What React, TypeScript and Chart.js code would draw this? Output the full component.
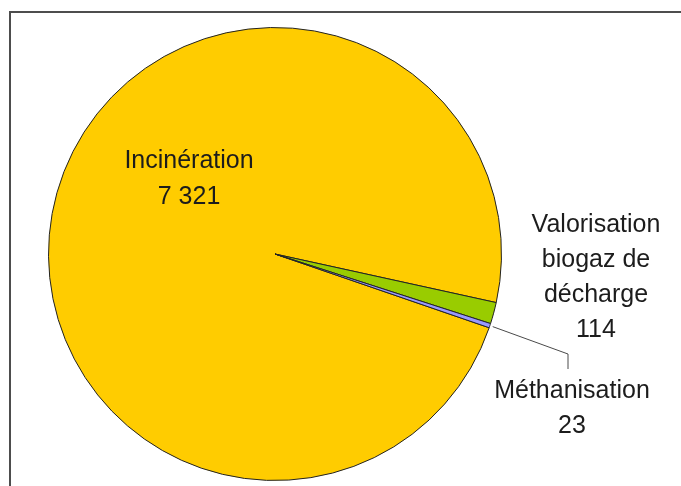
import React, { useEffect, useRef } from "react";
import { Chart, registerables } from "chart.js";

Chart.register(...registerables);

// Tonnages by recovery channel
const categories = ["Incinération", "Valorisation biogaz de décharge", "Méthanisation"];
const values = [7321, 114, 23];
const sliceColors = ["#FFCC00", "#99CC00", "#9999FF"];

// Label lines drawn beside each slice
const labelLines = [["Incinération"], ["Valorisation", "biogaz de", "décharge"], ["Méthanisation"]];

const fmt = (v: number) => String(v).replace(/\B(?=(\d{3})+(?!\d))/g, " ");

const FONT = '25px "Liberation Sans", Arial, sans-serif';
const LINE_H = 35;

const labelPlugin = {
  id: "sliceLabels",
  afterDatasetsDraw(chart: any) {
    const ctx = chart.ctx;
    const meta = chart.getDatasetMeta(0);
    const cx = meta.data[0].x;
    const cy = meta.data[0].y;

    // anchor: centre x and first baseline, relative to the pie centre
    const anchors = [
      { dx: -86, dy: -86 },
      { dx: 321, dy: -22 },
      { dx: 297, dy: 144 },
    ];

    ctx.save();
    ctx.font = FONT;
    ctx.fillStyle = "#1c1c1c";
    ctx.textAlign = "center";
    ctx.textBaseline = "alphabetic";
    labelLines.forEach((lines, i) => {
      const all = [...lines, fmt(values[i])];
      const a = anchors[i];
      all.forEach((t, j) => {
        ctx.fillText(t, cx + a.dx, cy + a.dy + j * LINE_H + (i === 0 && j > 0 ? 1 : 0));
      });
    });

    // leader line for the thin Méthanisation slice
    const arc = meta.data[2];
    const mid = (arc.startAngle + arc.endAngle) / 2;
    const r = arc.outerRadius + 3;
    const sx = arc.x + Math.cos(mid) * r;
    const sy = arc.y + Math.sin(mid) * r;
    const ex = cx + anchors[2].dx - 4;
    ctx.strokeStyle = "#4a4a4a";
    ctx.lineWidth = 1;
    ctx.beginPath();
    ctx.moveTo(sx, sy);
    ctx.lineTo(ex, cy + 100);
    ctx.lineTo(ex, cy + 115);
    ctx.stroke();
    ctx.restore();
  },
};

export default function App() {
  const ref = useRef<HTMLCanvasElement | null>(null);

  useEffect(() => {
    if (!ref.current) return;
    const chart = new Chart(ref.current, {
      type: "pie",
      data: {
        labels: categories,
        datasets: [
          {
            data: values,
            backgroundColor: sliceColors,
            borderColor: "#222",
            borderWidth: 1,
          },
        ],
      },
      options: {
        responsive: false,
        animation: false,
        rotation: 109,
        layout: { padding: { left: 48, right: 179, top: 27, bottom: 5 } },
        plugins: {
          legend: { display: false },
          tooltip: { enabled: false },
        },
      },
      plugins: [labelPlugin],
    });
    return () => chart.destroy();
  }, []);

  return (
    <div
      style={{
        position: "fixed",
        left: 0,
        top: 0,
        width: 681,
        height: 486,
        background: "#fff",
        overflow: "hidden",
      }}
    >
      <div
        style={{
          position: "absolute",
          left: 9,
          top: 11,
          width: 700,
          height: 500,
          borderTop: "2px solid #4d4d4d",
          borderLeft: "2px solid #4d4d4d",
        }}
      />
      <canvas
        ref={ref}
        width={681}
        height={486}
        style={{ position: "absolute", left: 0, top: 0 }}
      />
    </div>
  );
}
